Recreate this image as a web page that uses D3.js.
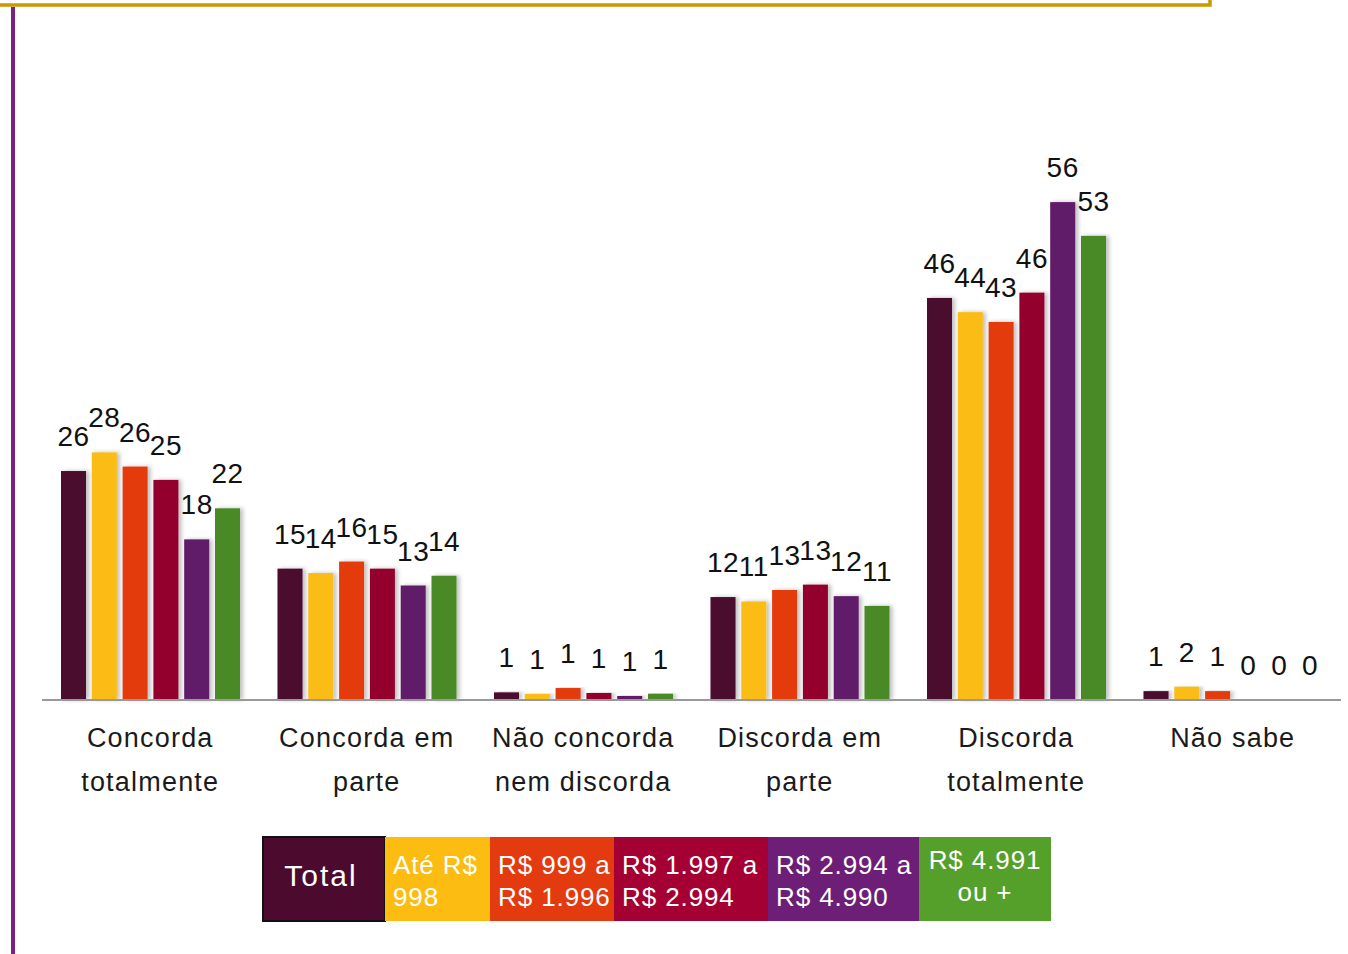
<!DOCTYPE html>
<html>
<head>
<meta charset="utf-8">
<script src="https://cdn.jsdelivr.net/npm/d3@7"></script>
<style>
  body { margin: 0; background: #fff; }
  svg { display: block; font-family: "Liberation Sans", Arial, sans-serif; }
</style>
</head>
<body>
<svg id="chart" width="1348" height="954"></svg>
<script>
// categories (two-line labels)
var categories = [
  ["Concorda", "totalmente"],
  ["Concorda em", "parte"],
  ["Não concorda", "nem discorda"],
  ["Discorda em", "parte"],
  ["Discorda", "totalmente"],
  ["Não sabe"]
];

var seriesNames = ["Total", "Até R$ 998", "R$ 999 a R$ 1.996", "R$ 1.997 a R$ 2.994", "R$ 2.994 a R$ 4.990", "R$ 4.991 ou +"];

// bar heights
var totalValues  = [25.8, 14.8, 0.86, 11.6, 45.3, 1.0];
var ate998Values = [27.9, 14.3, 0.68, 11.1, 43.7, 1.5];
var r999Values   = [26.3, 15.6, 1.35, 12.4, 42.6, 1.0];
var r1997Values  = [24.8, 14.8, 0.79, 13.0, 45.9, 0];
var r2994Values  = [18.1, 12.9, 0.45, 11.7, 56.1, 0];
var r4991Values  = [21.6, 14.0, 0.71, 10.6, 52.3, 0];

// printed data labels
var totalLabels  = [26, 15, 1, 12, 46, 1];
var ate998Labels = [28, 14, 1, 11, 44, 2];
var r999Labels   = [26, 16, 1, 13, 43, 1];
var r1997Labels  = [25, 15, 1, 13, 46, 0];
var r2994Labels  = [18, 13, 1, 12, 56, 0];
var r4991Labels  = [22, 14, 1, 11, 53, 0];

var legendLines = [
  ["Total"],
  ["Até R$", "998"],
  ["R$ 999 a", "R$ 1.996"],
  ["R$ 1.997 a", "R$ 2.994"],
  ["R$ 2.994 a", "R$ 4.990"],
  ["R$ 4.991", "ou +"]
];

var barColors    = ["#4b0a2e", "#fcbc12", "#e43a0f", "#93002f", "#611a68", "#4a8a26"];
var legendColors = ["#4b0a2e", "#fcbc12", "#e43a0f", "#a50034", "#6d1e77", "#55a02b"];

var allValues = [totalValues, ate998Values, r999Values, r1997Values, r2994Values, r4991Values];
var allLabels = [totalLabels, ate998Labels, r999Labels, r1997Labels, r2994Labels, r4991Labels];

var svg = d3.select("#chart");

// frame lines
svg.append("path")
  .attr("d", "M0,5 H1210 V0")
  .attr("fill", "none")
  .attr("stroke", "#cc9900")
  .attr("stroke-width", 3.5);
svg.append("line")
  .attr("x1", 13).attr("x2", 13)
  .attr("y1", 7).attr("y2", 954)
  .attr("stroke", "#7b2283")
  .attr("stroke-width", 4);

var defs = svg.append("defs");
var f = defs.append("filter").attr("id", "shadow")
  .attr("x", "-20%").attr("y", "-5%").attr("width", "160%").attr("height", "110%");
f.append("feDropShadow")
  .attr("dx", 3).attr("dy", 0).attr("stdDeviation", 2)
  .attr("flood-color", "#000").attr("flood-opacity", 0.25);

var x0 = d3.scaleBand()
  .domain(d3.range(categories.length))
  .range([42, 1341]);

var x1 = d3.scaleBand()
  .domain(d3.range(seriesNames.length))
  .range([19, 198])
  .paddingInner(0.188);

var y = d3.scaleLinear()
  .domain([0, 56])
  .range([700, 203]);

var groups = svg.append("g").selectAll("g")
  .data(categories)
  .enter().append("g")
  .attr("transform", function(d, i) { return "translate(" + x0(i) + ",0)"; });

groups.each(function(c, ci) {
  var g = d3.select(this);
  var rows = seriesNames.map(function(s, si) {
    return { s: si, v: allValues[si][ci], label: allLabels[si][ci] };
  });
  g.selectAll("rect")
    .data(rows.filter(function(d) { return d.v > 0; }))
    .enter().append("rect")
    .attr("x", function(d) { return x1(d.s); })
    .attr("y", function(d) { return y(d.v); })
    .attr("width", x1.bandwidth())
    .attr("height", function(d) { return y(0) - y(d.v); })
    .attr("fill", function(d) { return barColors[d.s]; })
    .attr("filter", "url(#shadow)");
  g.selectAll("text")
    .data(rows)
    .enter().append("text")
    .attr("x", function(d) { return x1(d.s) + x1.bandwidth() / 2; })
    .attr("y", function(d) { return y(d.v) - 25; })
    .attr("text-anchor", "middle")
    .style("font-size", "28px")
    .style("letter-spacing", "0.5px")
    .style("fill", "#111")
    .text(function(d) { return d.label; });
});

// baseline
svg.append("line")
  .attr("x1", 42).attr("x2", 1341)
  .attr("y1", y(0)).attr("y2", y(0))
  .attr("stroke", "#999")
  .attr("stroke-width", 2);

// category labels
var catLabels = svg.append("g").selectAll("text")
  .data(categories)
  .enter().append("text")
  .attr("text-anchor", "middle")
  .style("font-size", "27px")
  .style("letter-spacing", "1.2px")
  .style("fill", "#1a1a1a");
catLabels.each(function(lines, i) {
  var t = d3.select(this);
  lines.forEach(function(line, li) {
    t.append("tspan")
      .attr("x", x0(i) + x0.bandwidth() / 2)
      .attr("y", 747 + li * 44)
      .text(line);
  });
});

// legend
var legendX = [263, 385, 490, 614, 768, 919, 1051];
var legend = svg.append("g").selectAll("g")
  .data(seriesNames)
  .enter().append("g");

legend.append("rect")
  .attr("x", function(d, i) { return legendX[i]; })
  .attr("y", 837)
  .attr("width", function(d, i) { return legendX[i + 1] - legendX[i]; })
  .attr("height", 84)
  .attr("fill", function(d, i) { return legendColors[i]; })
  .attr("stroke", function(d, i) { return i === 0 ? "#111" : "none"; })
  .attr("stroke-width", 2);

legend.each(function(d, i) {
  var g = d3.select(this);
  var lines = legendLines[i];
  var w = legendX[i + 1] - legendX[i];
  if (i === 0) {
    g.append("text")
      .attr("x", legendX[i] + w / 2 - 3)
      .attr("y", 886)
      .attr("text-anchor", "middle")
      .style("font-size", "30px")
      .style("letter-spacing", "2px")
      .style("fill", "#fff")
      .text(lines[0]);
    return;
  }
  var centered = i === seriesNames.length - 1;
  lines.forEach(function(line, li) {
    g.append("text")
      .attr("x", centered ? legendX[i] + w / 2 : legendX[i] + 8)
      .attr("y", (centered ? 869 : 874) + li * 32)
      .attr("text-anchor", centered ? "middle" : "start")
      .style("font-size", "26px")
      .style("letter-spacing", "0.9px")
      .style("fill", "#fff")
      .text(line);
  });
});
</script>
</body>
</html>
